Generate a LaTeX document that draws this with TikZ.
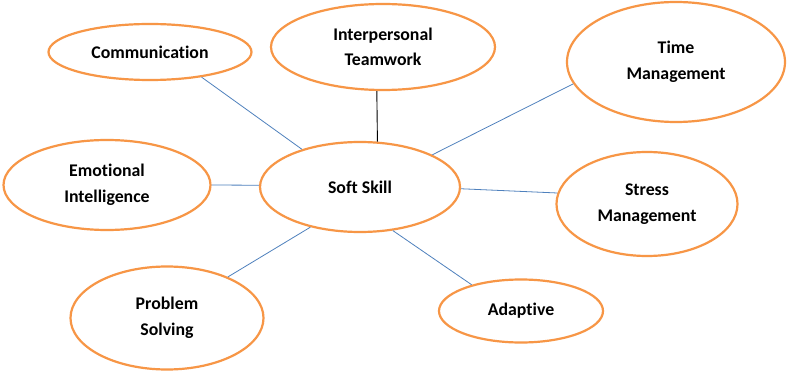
\documentclass[tikz,border=0pt]{standalone}
\usepackage{fontspec}
\setmainfont{Carlito}[Ligatures=NoCommon]
\usepackage{xcolor}
\usepackage{tikz}
\usetikzlibrary{shapes.geometric}
\definecolor{sorange}{HTML}{F79646}
\definecolor{sblue}{HTML}{4F81BD}

\begin{document}
\begin{tikzpicture}[x=1pt,y=-1pt,
    skill/.style={ellipse,draw=sorange,line width=2.2pt,fill=white,
      inner sep=0pt,align=center,font=\fontsize{17.8}{25.5}\selectfont\bfseries},
    link/.style={draw=sblue,line width=0.8pt}]
  \useasboundingbox[fill=white] (0,0) rectangle (787,374);
  % centre and skills around it
  \node[skill,minimum width=200,minimum height=90] (soft) at (360,187) {Soft Skill};
  \node[skill,minimum width=203,minimum height=56] (comm) at (150,52) {Communication};
  \node[skill,minimum width=224,minimum height=86] (team) at (383,47) {Interpersonal\\Teamwork};
  \node[skill,minimum width=218,minimum height=120] (time) at (676,62) {Time\\Management};
  \node[skill,minimum width=207,minimum height=90] (emot) at (107,185) {Emotional\\Intelligence};
  \node[skill,minimum width=181,minimum height=104] (stress) at (647,204) {Stress\\Management};
  \node[skill,minimum width=193,minimum height=103] (prob) at (167,318) {Problem\\Solving};
  \node[skill,minimum width=164,minimum height=63] (adapt) at (521,311) {Adaptive};
  % links
  \draw[link] (comm.-26) -- (soft.147);
  \draw[line width=0.9pt] (team.262) -- (soft.69);
  \draw[link] (time.192) -- (soft.24);
  \draw[link] (emot.0) -- (soft.179);
  \draw[link] (soft.-1) -- (stress.173);
  \draw[link] (soft.219) -- (prob.34);
  \draw[link] (soft.307) -- (adapt.152);
\end{tikzpicture}
\end{document}
